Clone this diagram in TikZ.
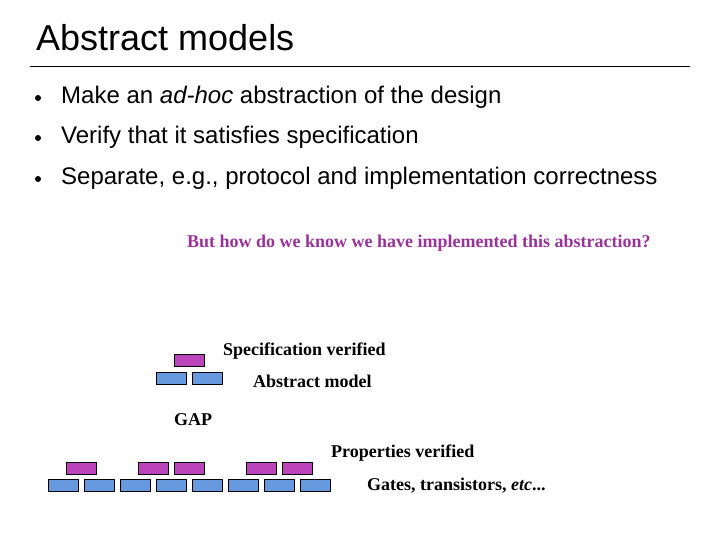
\documentclass[tikz,border=0pt]{standalone}
\usepackage{fontspec}
\setmainfont{Liberation Sans}
\newfontfamily\tnr{Liberation Serif}
\begin{document}
\begin{tikzpicture}[x=1pt,y=-1pt,
  bb/.style={draw=black,line width=0.8pt,fill={rgb,255:red,102;green,153;blue,221},minimum width=30pt,minimum height=12pt,inner sep=0pt,anchor=north west},
  pb/.style={bb,fill={rgb,255:red,187;green,68;blue,187}},
  lab/.style={font=\tnr\bfseries\fontsize{18}{20}\selectfont,anchor=west,inner sep=0pt},
  txt/.style={font=\fontsize{24}{27}\selectfont,anchor=west,inner sep=0pt},
  dot/.style={circle,fill=black,inner sep=0pt,minimum size=6pt}]
\useasboundingbox (0,0) rectangle (720,540);
\node[anchor=west,inner sep=0pt,font=\fontsize{36}{40}\selectfont] (title) at (36,38) {Abstract models};
\coordinate (r1) at (30,66); \coordinate (r2) at (690,66);
\draw[line width=0.8pt] (r1) -- (r2);
\node[dot] (d1) at (38,98) {}; \node[txt] (t1) at (61,97) {Make an \textit{ad-hoc} abstraction of the design};
\node[dot] (d2) at (38,138) {}; \node[txt] (t2) at (61,137) {Verify that it satisfies specification};
\node[dot] (d3) at (38,179) {}; \node[txt] (t3) at (61,178) {Separate, e.g., protocol and implementation correctness};
\node[lab,text={rgb,255:red,153;green,51;blue,153}] (q) at (187,243) {But how do we know we have implemented this abstraction?};
\node[pb] (s1) at (174,354) {};
\node[bb] (a1) at (156,372) {}; \node[bb] (a2) at (192,372) {};
\node[lab] (ls) at (223,351) {Specification verified};
\node[lab] (la) at (253,381) {Abstract model};
\node[lab] (gap) at (174,420) {GAP};
\foreach \i/\x in {1/66,2/138,3/174,4/246,5/282} \node[pb] (p\i) at (\x,462) {};
\foreach \i in {0,...,7} \node[bb] (g\i) at (48+36*\i,479) {};
\node[lab] (lp) at (331,453) {Properties verified};
\node[lab] (lg) at (367,486) {Gates, transistors, \textit{etc}...};
\end{tikzpicture}
\end{document}
